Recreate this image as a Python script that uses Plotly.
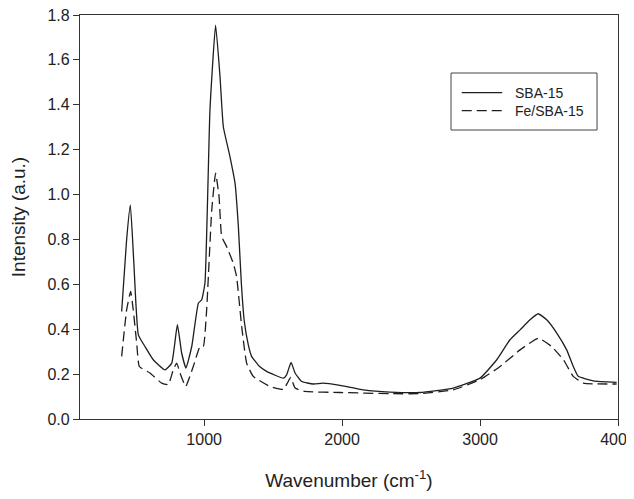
import plotly.graph_objects as go

# SBA-15 (solid)
sba_x = [402, 438, 465, 490, 523, 571, 631, 716, 765, 806, 837, 868, 910, 958, 982, 1006,
         1042, 1083, 1115, 1139, 1187, 1224, 1248, 1270, 1290, 1320, 1344, 1400, 1453, 1574,
         1598, 1630, 1659, 1707, 1791, 1864, 1985, 2154, 2347, 2565, 2806, 3000, 3121, 3217,
         3290, 3362, 3422, 3483, 3556, 3628, 3676, 3712, 3821, 3990]
sba_y = [0.479, 0.80, 0.954, 0.70, 0.375, 0.323, 0.264, 0.219, 0.249, 0.42, 0.294, 0.227,
         0.323, 0.516, 0.531, 0.607, 1.376, 1.755, 1.525, 1.302, 1.169, 1.05, 0.857, 0.60,
         0.44, 0.33, 0.279, 0.235, 0.212, 0.182, 0.197, 0.252, 0.205, 0.167, 0.156, 0.160,
         0.150, 0.130, 0.120, 0.118, 0.138, 0.182, 0.264, 0.353, 0.397, 0.442, 0.469, 0.442,
         0.383, 0.308, 0.234, 0.190, 0.170, 0.163]

# Fe/SBA-15 (dashed)
fe_x = [402, 438, 467, 486, 511, 530, 607, 692, 740, 776, 801, 825, 866, 921, 970, 994,
        1018, 1055, 1083, 1108, 1127, 1163, 1211, 1235, 1272, 1308, 1356, 1477, 1574, 1603,
        1627, 1659, 1731, 1985, 2347, 2565, 2806, 3000, 3145, 3290, 3422, 3519, 3604, 3676,
        3749, 3990]
fe_y = [0.279, 0.486, 0.568, 0.486, 0.338, 0.234, 0.205, 0.160, 0.153, 0.219, 0.249, 0.205,
        0.145, 0.234, 0.323, 0.323, 0.486, 0.931, 1.095, 0.991, 0.813, 0.768, 0.694, 0.635,
        0.412, 0.249, 0.190, 0.145, 0.132, 0.160, 0.185, 0.138, 0.123, 0.118, 0.113, 0.113,
        0.130, 0.175, 0.234, 0.308, 0.360, 0.323, 0.264, 0.190, 0.160, 0.156]

series_names = ["SBA-15", "Fe/SBA-15"]
y_ticks = [0.0, 0.2, 0.4, 0.6, 0.8, 1.0, 1.2, 1.4, 1.6, 1.8]
x_ticks = [1000, 2000, 3000, 4000]

line_col = "#1e1e1e"
dash_pat = "10px,5px"
font = "Liberation Sans, Arial, sans-serif"

fig = go.Figure()
fig.add_trace(go.Scatter(x=sba_x, y=sba_y, mode="lines", name=series_names[0],
                         line=dict(color=line_col, width=1.3, shape="spline", smoothing=0.4)))
fig.add_trace(go.Scatter(x=fe_x, y=fe_y, mode="lines", name=series_names[1],
                         line=dict(color=line_col, width=1.3, dash=dash_pat,
                                   shape="spline", smoothing=0.4)))

# Legend drawn as a framed box (paper coordinates)
fig.add_shape(type="rect", xref="paper", yref="paper", x0=0.6896, x1=0.961, y0=0.7153, y1=0.8564,
              line=dict(color="#444", width=1), fillcolor="white", layer="above")
leg_y = [0.8077, 0.7631]
leg_dash = ["solid", dash_pat]
for name, ly, dsh in zip(series_names, leg_y, leg_dash):
    fig.add_shape(type="line", xref="paper", yref="paper", x0=0.7095, x1=0.7848, y0=ly, y1=ly,
                  line=dict(color=line_col, width=1.3, dash=dsh), layer="above")
    fig.add_annotation(xref="paper", yref="paper", x=0.8043, y=ly, text=name, showarrow=False,
                       xanchor="left", yanchor="middle",
                       font=dict(size=14, family=font, color="#222"))

fig.update_layout(
    width=626, height=483,
    margin=dict(l=72, r=16, t=7, b=72),
    paper_bgcolor="white", plot_bgcolor="white",
    font=dict(family=font, size=16, color="#222"),
    showlegend=False,
)
fig.update_xaxes(range=[100, 4000], tickvals=x_ticks, ticktext=[str(v) for v in x_ticks],
                 ticks="outside", ticklen=6, tickcolor="#333", showline=True,
                 linecolor="#333", linewidth=1.2, mirror=True, showgrid=False, zeroline=False,
                 automargin=False, ticklabeloverflow="allow",
                 title=dict(text="Wavenumber (cm<sup>-1</sup>)", font=dict(size=19), standoff=29),
                 tickfont=dict(size=16))
fig.update_yaxes(range=[0, 1.8], tickvals=y_ticks, ticktext=[f"{v:.1f}" for v in y_ticks],
                 ticks="outside", ticklen=6, tickcolor="#333", showline=True,
                 linecolor="#333", linewidth=1.2, mirror=True, showgrid=False, zeroline=False,
                 automargin=False, ticklabeloverflow="allow",
                 title=dict(text="Intensity (a.u.)", font=dict(size=19), standoff=24),
                 tickfont=dict(size=16))

fig.write_html("out.html")
